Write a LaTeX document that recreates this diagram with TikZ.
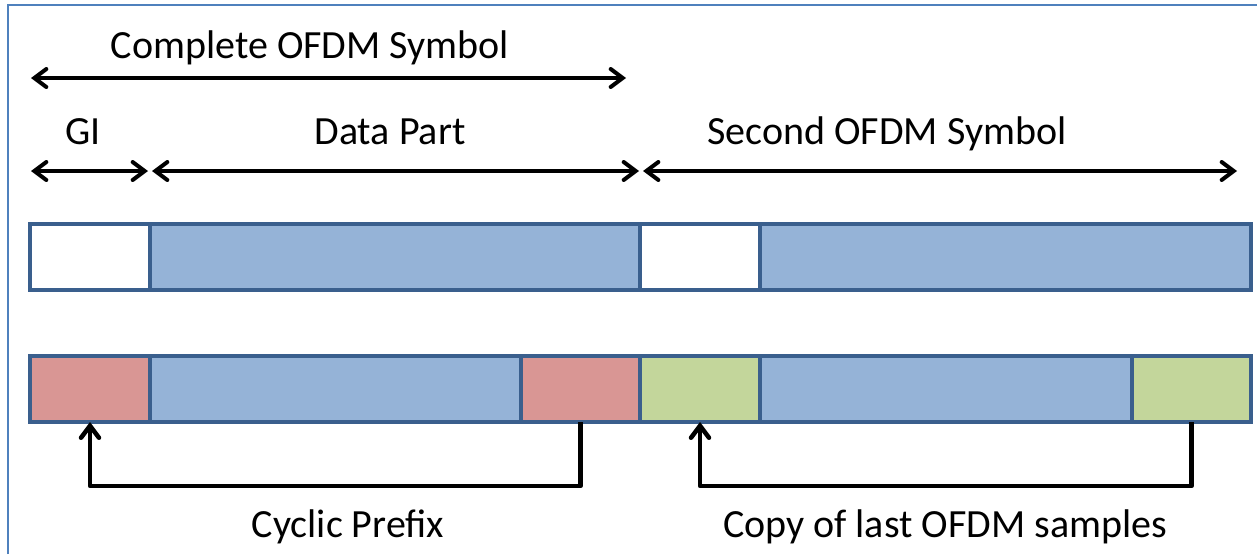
\documentclass[tikz,border=0pt]{standalone}
\usepackage{fontspec}
\setmainfont{Carlito}
\usetikzlibrary{arrows.meta}
\definecolor{framec}{HTML}{4F81BD}
\definecolor{segline}{HTML}{3A5F8D}
\definecolor{datafill}{HTML}{95B3D7}
\definecolor{cpfill}{HTML}{D99694}
\definecolor{cpyfill}{HTML}{C3D69B}
\tikzset{
  seg/.style={draw=segline, line width=4pt, minimum height=66pt, inner sep=0pt, outer sep=0pt},
  guard/.style={seg, fill=white},
  data/.style={seg, fill=datafill},
  cpseg/.style={seg, fill=cpfill},
  cpyseg/.style={seg, fill=cpyfill},
  span/.style={line width=4pt, {Straight Barb[length=12pt,width=18pt,line cap=round]}-{Straight Barb[length=12pt,width=18pt,line cap=round]}},
  link/.style={line width=4.5pt, line join=round, -{Straight Barb[length=12pt,width=18pt,line cap=round]}},
  lbl/.style={font=\fontsize{40}{48}\selectfont, anchor=base, inner sep=0pt}
}
\begin{document}
\begin{tikzpicture}[x=1pt,y=-1pt]
  \useasboundingbox (0,0) rectangle (1257,554);
  % frame edges
  \draw[framec, line width=2.5pt] (8,554) -- (8,5) -- (1257,5);

  % upper bar: guard intervals left empty
  \node[guard, minimum width=120pt] (t1) at (90,256.5) {};
  \node[data,  minimum width=490pt] (t2) at (395,256.5) {};
  \node[guard, minimum width=120pt] (t3) at (700,256.5) {};
  \node[data,  minimum width=491pt] (t4) at (1005.5,256.5) {};

  % lower bar: guard intervals filled with copies of the symbol tails
  \node[cpseg,  minimum width=120pt] (b1) at (90,389) {};
  \node[data,   minimum width=371pt] (b2) at (335.5,389) {};
  \node[cpseg,  minimum width=119pt] (b3) at (580.5,389) {};
  \node[cpyseg, minimum width=120pt] (b4) at (700,389) {};
  \node[data,   minimum width=372pt] (b5) at (946,389) {};
  \node[cpyseg, minimum width=119pt] (b6) at (1191.5,389) {};

  % extents of the symbol parts
  \coordinate (s0) at (31,78);
  \coordinate (s1) at (626,78);
  \coordinate (g0) at (31,171);
  \coordinate (g1) at (148,171);
  \coordinate (d0) at (152,171);
  \coordinate (d1) at (639,171);
  \coordinate (e0) at (643,171);
  \coordinate (e1) at (1237,171);
  \draw[span] (s0) -- (s1);
  \draw[span] (g0) -- (g1);
  \draw[span] (d0) -- (d1);
  \draw[span] (e0) -- (e1);

  \node[lbl] (lcomplete) at (310,58) {Complete OFDM Symbol};
  \node[lbl] (lgi) at (83,144) {GI};
  \node[lbl] (ldata) at (390,144) {Data Part};
  \node[lbl] (lsecond) at (887,144) {Second OFDM Symbol};

  % cyclic prefix copies
  \draw[link] (b3.south) -- ++(0,64) -| (b1.south);
  \draw[link] (b6.south) -- ++(0,64) -| (b4.south);

  \node[lbl] (lcp) at (348,537) {Cyclic Prefix};
  \node[lbl] (lcopy) at (945,537) {Copy of last OFDM samples};
\end{tikzpicture}
\end{document}
